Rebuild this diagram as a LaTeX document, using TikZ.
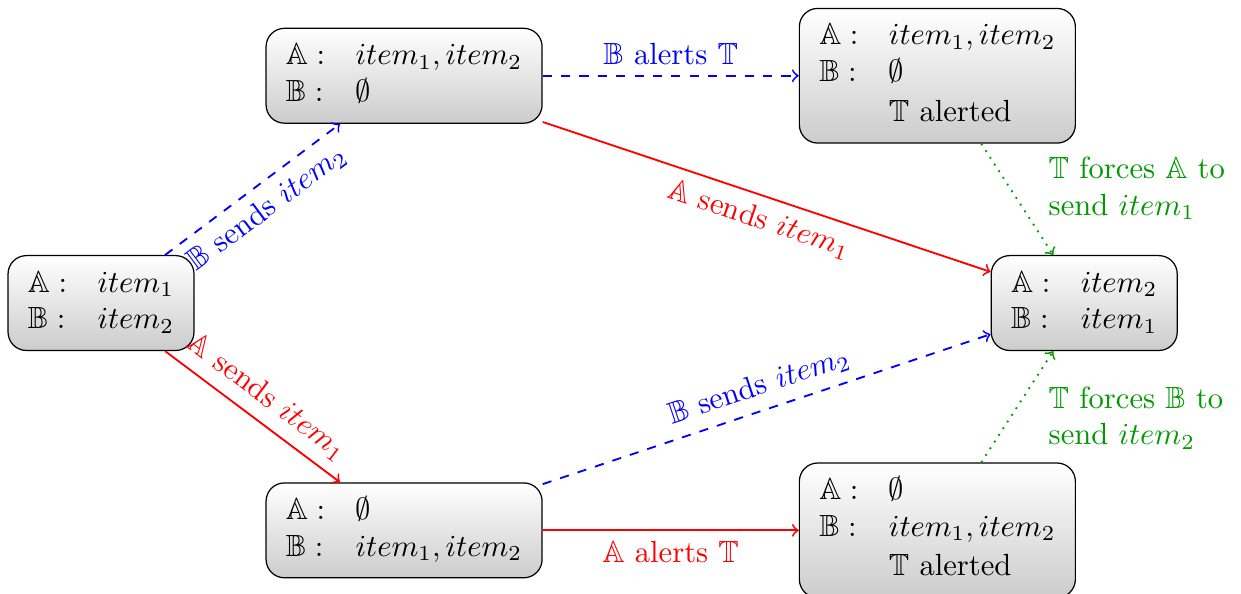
\documentclass[tikz,border=0pt]{standalone}
\usepackage{amssymb}
\usepackage{tikz}
\usetikzlibrary{positioning}

\begin{document}
\begin{tikzpicture}[
    holdbox/.style={draw, rounded corners=6pt, top color=white, bottom color=gray!40,
                    inner xsep=6.5pt, inner ysep=3.5pt},
    sendA/.style={->, red, semithick},
    sendB/.style={->, blue, dashed, semithick},
    force/.style={->, green!60!black, dotted, semithick}
]
    \useasboundingbox (-1.16,-3.34) rectangle (13.09,3.48);
    \node[holdbox] (init) at (0,0) {\begin{tabular}{@{}l@{\hspace{10pt}}l@{}}$\mathbb{A}:$ & $item_1$\\ $\mathbb{B}:$ & $item_2$\end{tabular}};
    \node[holdbox] (bsent) at (3.48,2.61) {\begin{tabular}{@{}l@{\hspace{10pt}}l@{}}$\mathbb{A}:$ & $item_1, item_2$\\ $\mathbb{B}:$ & $\emptyset$\end{tabular}};
    \node[holdbox] (asent) at (3.48,-2.61) {\begin{tabular}{@{}l@{\hspace{10pt}}l@{}}$\mathbb{A}:$ & $\emptyset$\\ $\mathbb{B}:$ & $item_1, item_2$\end{tabular}};
    \node[holdbox, right=2.94cm of bsent] (balert) {\begin{tabular}{@{}l@{\hspace{10pt}}l@{}}$\mathbb{A}:$ & $item_1, item_2$\\ $\mathbb{B}:$ & $\emptyset$\\[1pt] & $\mathbb{T}$ alerted\end{tabular}};
    \node[holdbox, right=2.94cm of asent] (aalert) {\begin{tabular}{@{}l@{\hspace{10pt}}l@{}}$\mathbb{A}:$ & $\emptyset$\\ $\mathbb{B}:$ & $item_1, item_2$\\[1pt] & $\mathbb{T}$ alerted\end{tabular}};
    \node[holdbox] (swapped) at (11.29,0) {\begin{tabular}{@{}l@{\hspace{10pt}}l@{}}$\mathbb{A}:$ & $item_2$\\ $\mathbb{B}:$ & $item_1$\end{tabular}};

    % first moves
    \draw[sendB] (init) -- node[sloped, below] {$\mathbb{B}$ sends $item_2$} (bsent);
    \draw[sendA] (init) -- node[sloped, above] {$\mathbb{A}$ sends $item_1$} (asent);
    % second moves
    \draw[sendB] (bsent) -- node[above] {$\mathbb{B}$ alerts $\mathbb{T}$} (balert);
    \draw[sendA] (asent) -- node[below] {$\mathbb{A}$ alerts $\mathbb{T}$} (aalert);
    \draw[sendA] (bsent) -- node[sloped, below] {$\mathbb{A}$ sends $item_1$} (swapped);
    \draw[sendB] (asent) -- node[sloped, above] {$\mathbb{B}$ sends $item_2$} (swapped);
    % trusted party
    \draw[force] (balert) -- node[pos=0.4, right=9pt, align=left] {$\mathbb{T}$ forces $\mathbb{A}$ to\\send $item_1$} (swapped);
    \draw[force] (aalert) -- node[pos=0.4, right=9pt, align=left] {$\mathbb{T}$ forces $\mathbb{B}$ to\\send $item_2$} (swapped);
\end{tikzpicture}
\end{document}
